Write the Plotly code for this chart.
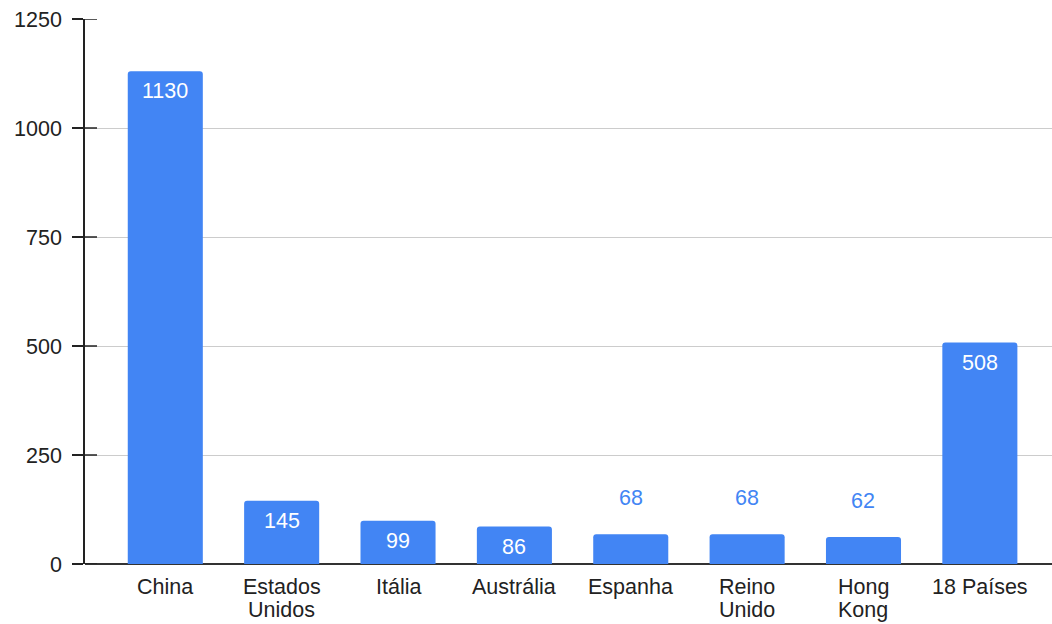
import plotly.graph_objects as go

categories = ["China", "Estados<br>Unidos", "Itália", "Austrália", "Espanha", "Reino<br>Unido", "Hong<br>Kong", "18 Países"]
values = [1130, 145, 99, 86, 68, 68, 62, 508]
y_ticks = [0, 250, 500, 750, 1000, 1250]

BLUE = "#4285F4"
FONT = "Arial, Liberation Sans, sans-serif"
TXT = "#222222"
FS = 21.5
W, H = 1052, 624
ML, MR, MT, MB = 85, 0, 19, 60

fig = go.Figure()
fig.add_trace(go.Bar(
    x=categories, y=values, marker=dict(color=BLUE, cornerradius=3, line=dict(width=0)),
    width=0.645, hoverinfo="skip",
))

annotations = []
for c, v in zip(categories, values):
    inside = v >= 80
    annotations.append(dict(
        x=c, y=v, xref="x", yref="y", text=str(v), showarrow=False,
        yanchor="middle", yshift=-20 if inside else 36,
        font=dict(family=FONT, size=FS, color="white" if inside else BLUE),
    ))
# category labels, one annotation per line for tighter line spacing
for c in categories:
    for i, line in enumerate(c.split("<br>")):
        annotations.append(dict(
            x=c, y=0, xref="x", yref="y", text=line, showarrow=False,
            yanchor="middle", yshift=-23 - 23 * i,
            font=dict(family=FONT, size=FS, color=TXT),
        ))

# inner half of the crossing tick marks
inner = 12 / (W - ML - MR)
shapes = []
for t in y_ticks:
    shapes.append(dict(type="line", xref="paper", yref="y", layer="above",
                       x0=0, x1=inner, y0=t, y1=t, line=dict(color="#222222", width=1.5)))

fig.update_layout(
    width=W, height=H, margin=dict(l=ML, r=MR, t=MT, b=MB),
    paper_bgcolor="white", plot_bgcolor="white", showlegend=False,
    font=dict(family=FONT, size=FS, color=TXT),
    annotations=annotations, shapes=shapes,
    xaxis=dict(range=[-0.69, 7.62], showgrid=False, showline=False, ticks="",
               showticklabels=False, zeroline=False),
    yaxis=dict(range=[0, 1250], tickvals=y_ticks, showgrid=True, gridcolor="#cccccc",
               gridwidth=1, showline=True, linecolor="#222222", linewidth=1.5,
               ticks="outside", ticklen=11, tickcolor="#222222", tickwidth=1.5,
               tickfont=dict(size=FS, color=TXT), zeroline=True, zerolinecolor="#333333",
               zerolinewidth=1.5, ticklabelstandoff=6),
)

fig.write_html("out.html")
